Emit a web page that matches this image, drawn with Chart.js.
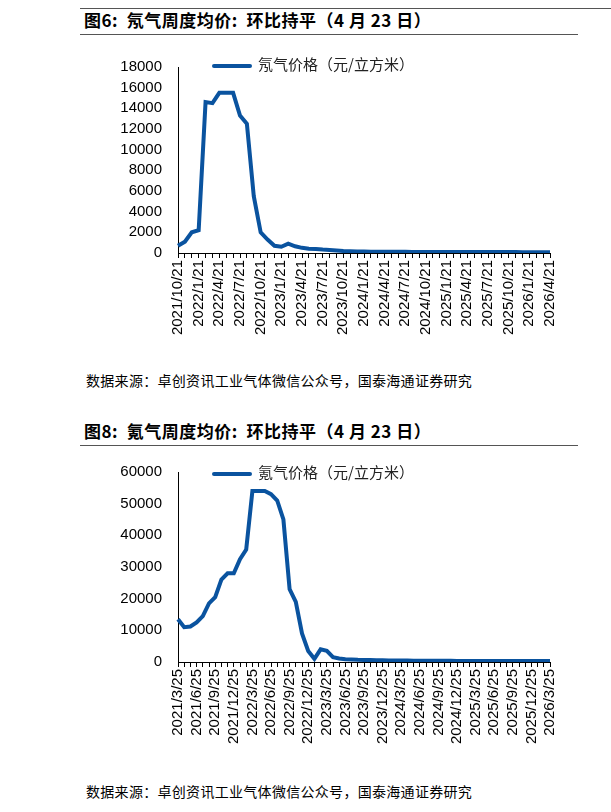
<!DOCTYPE html>
<html><head><meta charset="utf-8">
<script src="https://cdn.jsdelivr.net/npm/chart.js@4/dist/chart.umd.min.js"></script>
<style>
body{margin:0;width:611px;height:812px;background:#fff;position:relative;overflow:hidden;font-family:"Noto Sans CJK SC",sans-serif}
.t{position:absolute;left:84px;font-size:17px;font-weight:bold;color:#000;letter-spacing:0.5px}
.hl{position:absolute;left:80px;width:498px;border-top:1.5px solid #555}
.src{position:absolute;left:86px;font-size:14px;color:#000;letter-spacing:0.3px}
.lg{position:absolute;left:212px;font-size:15px;color:#222}
.lg span{display:inline-block;width:40px;height:4px;background:#0a539f;vertical-align:middle;margin-right:6px;border-radius:2px}
canvas{position:absolute}
</style></head><body>
<div class="hl" style="top:8px;width:531px"></div>
<div class="t" style="top:7px">图6:&nbsp; 氖气周度均价:&nbsp; 环比持平（4 月 23 日）</div>
<div class="hl" style="top:34px"></div>
<div class="src" style="top:370px">数据来源：卓创资讯工业气体微信公众号，国泰海通证券研究</div>
<div class="t" style="top:418px">图8:&nbsp; 氪气周度均价:&nbsp; 环比持平（4 月 23 日）</div>
<div class="hl" style="top:445px"></div>
<div class="src" style="top:781px">数据来源：卓创资讯工业气体微信公众号，国泰海通证券研究</div>
<canvas id="c1" style="left:80px;top:50px;width:490px;height:310px"></canvas>
<canvas id="c2" style="left:80px;top:455px;width:490px;height:310px"></canvas>
<div class="lg" style="top:53px"><span></span>氖气价格（元/立方米）</div>
<div class="lg" style="top:461px"><span></span>氪气价格（元/立方米）</div>
<script>
function months(y,m,n,d){const a=[];for(let i=0;i<n;i++){a.push(y+'/'+m+'/'+d);m++;if(m>12){m=1;y++;}}return a;}
const neonLabels=months(2021,10,55,21);
const neonValues=[700,1100,2000,2200,14600,14500,15500,15500,15500,13300,12500,5500,2000,1300,700,600,900,650,500,420,380,330,300,250,200,170,150,140,130,125,120,115,110,110,105,105,100,100,100,95,95,95,90,90,90,90,85,85,85,85,80,80,80,80,80];
const kryptonLabels=months(2021,3,61,25);
const kryptonValues=[13500,11000,11200,12500,14500,18500,20500,26000,28000,28000,32500,35500,54000,54000,54000,53000,51000,45000,23000,19000,9000,3500,1000,4000,3500,1500,1100,900,800,700,650,600,550,520,500,480,460,440,420,410,400,390,380,370,360,350,340,330,320,320,310,310,300,300,300,300,300,300,300,300,300];
const tickFont={family:'"Liberation Sans",Arial,sans-serif',size:15};
function make(id,labels,values,max,step,xh){
 new Chart(document.getElementById(id),{type:'line',
 data:{labels,datasets:[{data:values,borderColor:'#0a539f',borderWidth:4,pointRadius:0,tension:0,fill:false}]},
 options:{responsive:false,animation:false,layout:{padding:{top:10,right:18,bottom:0,left:0}},
 plugins:{legend:{display:false},tooltip:{enabled:false}},
 scales:{
  x:{offset:false,grid:{drawOnChartArea:false,drawTicks:true,tickLength:5,color:'#000'},border:{color:'#000'},
     ticks:{autoSkip:false,maxRotation:90,minRotation:90,color:'#000',font:tickFont,padding:2,
       callback:(v,i)=>i%3===0?labels[i]:''},afterFit:s=>{s.height=xh;}},
  y:{min:0,max:max,grid:{display:false},border:{color:'#000'},
     ticks:{stepSize:step,autoSkip:false,color:'#000',font:tickFont,padding:8,callback:v=>String(v)},afterFit:s=>{s.width=98;}}
 }}});
}
make('c1',neonLabels,neonValues,18000,2000,107);
make('c2',kryptonLabels,kryptonValues,60000,10000,103);
</script></body></html>
